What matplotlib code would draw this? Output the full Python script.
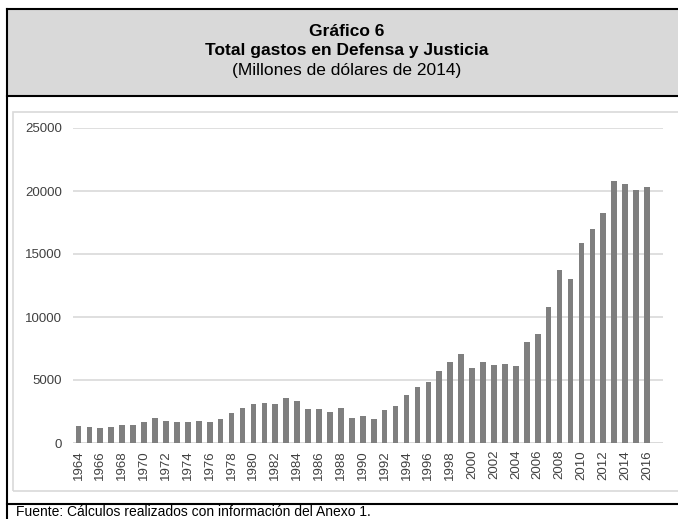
import numpy as np
import matplotlib
matplotlib.use('Agg')
import matplotlib.pyplot as plt
from matplotlib.patches import Rectangle
from matplotlib.lines import Line2D

plt.rcParams['font.family'] = ['Liberation Sans', 'DejaVu Sans']

# Data (millones de dólares de 2014)
years = list(range(1964, 2017))
gastos = [1360, 1300, 1220, 1300, 1460, 1460, 1650, 1970, 1760, 1650,
          1650, 1760, 1650, 1920, 2390, 2790, 3090, 3190, 3090, 3590,
          3300, 2660, 2660, 2450, 2790, 2020, 2130, 1920, 2610, 2950,
          3800, 4440, 4840, 5720, 6460, 7050, 5960, 6420, 6210, 6260,
          6150, 8000, 8630, 10820, 13760, 12990, 15880, 17010, 18280, 20820,
          20530, 20110, 20300]
yticks = [0, 5000, 10000, 15000, 20000, 25000]

W, H = 678, 519
fig = plt.figure(figsize=(W / 100, H / 100), dpi=100)

def fx(px):
    return px / W

def fy(py):
    return 1 - py / H

# title box
fig.patches.append(Rectangle((fx(7), fy(96)), fx(700), fy(9) - fy(96),
                             transform=fig.transFigure, facecolor='#d9d9d9',
                             edgecolor='none', zorder=0))
black = dict(color='black', linewidth=1.5, transform=fig.transFigure)
fig.lines.append(Line2D([fx(7), fx(700)], [fy(9), fy(9)], **black))
fig.lines.append(Line2D([fx(7), fx(700)], [fy(96), fy(96)], **black))
fig.lines.append(Line2D([fx(7), fx(7)], [fy(9), fy(530)], **black))
fig.lines.append(Line2D([fx(7), fx(700)], [fy(504), fy(504)], **black))

# inner chart frame
fig.patches.append(Rectangle((fx(13), fy(491)), fx(700), fy(112) - fy(491),
                             transform=fig.transFigure, facecolor='none',
                             edgecolor='#d9d9d9', linewidth=1.2, zorder=0))

cx = fx(347)
fig.text(cx, fy(32), 'Gráfico 6', ha='center', va='center',
         fontsize=12.5, fontweight='bold')
fig.text(cx, fy(51), 'Total gastos en Defensa y Justicia', ha='center',
         va='center', fontsize=12.5, fontweight='bold')
fig.text(cx, fy(70), '(Millones de dólares de 2014)', ha='center',
         va='center', fontsize=12.5)
fig.text(fx(16), fy(516), 'Fuente: Cálculos realizados con información del Anexo 1.',
         ha='left', va='baseline', fontsize=10)

ax = fig.add_axes([fx(73), fy(443), fx(590), fy(128) - fy(443)])
x = np.arange(len(years))
ax.bar(x, gastos, width=0.52, color='#7f7f7f', zorder=2)
ax.set_xlim(-0.5, len(years) - 1 + 1.46)
ax.set_ylim(0, 25000)
ax.set_yticks(yticks)
ax.set_yticklabels([str(v) for v in yticks])
ax.yaxis.grid(True, color='#d9d9d9', linewidth=1.2)
ax.set_axisbelow(True)
for s in ['top', 'right', 'left', 'bottom']:
    ax.spines[s].set_visible(False)
ax.axhline(0, color='#d9d9d9', linewidth=1.2, zorder=1)
ax.set_xticks(x[::2])
ax.set_xticklabels([str(y) for y in years[::2]], rotation=90)
ax.tick_params(axis='both', length=0, labelsize=9.5, colors='#404040')
ax.tick_params(axis='x', pad=5)
ax.tick_params(axis='y', pad=8)

fig.savefig('out.png', dpi=100)
